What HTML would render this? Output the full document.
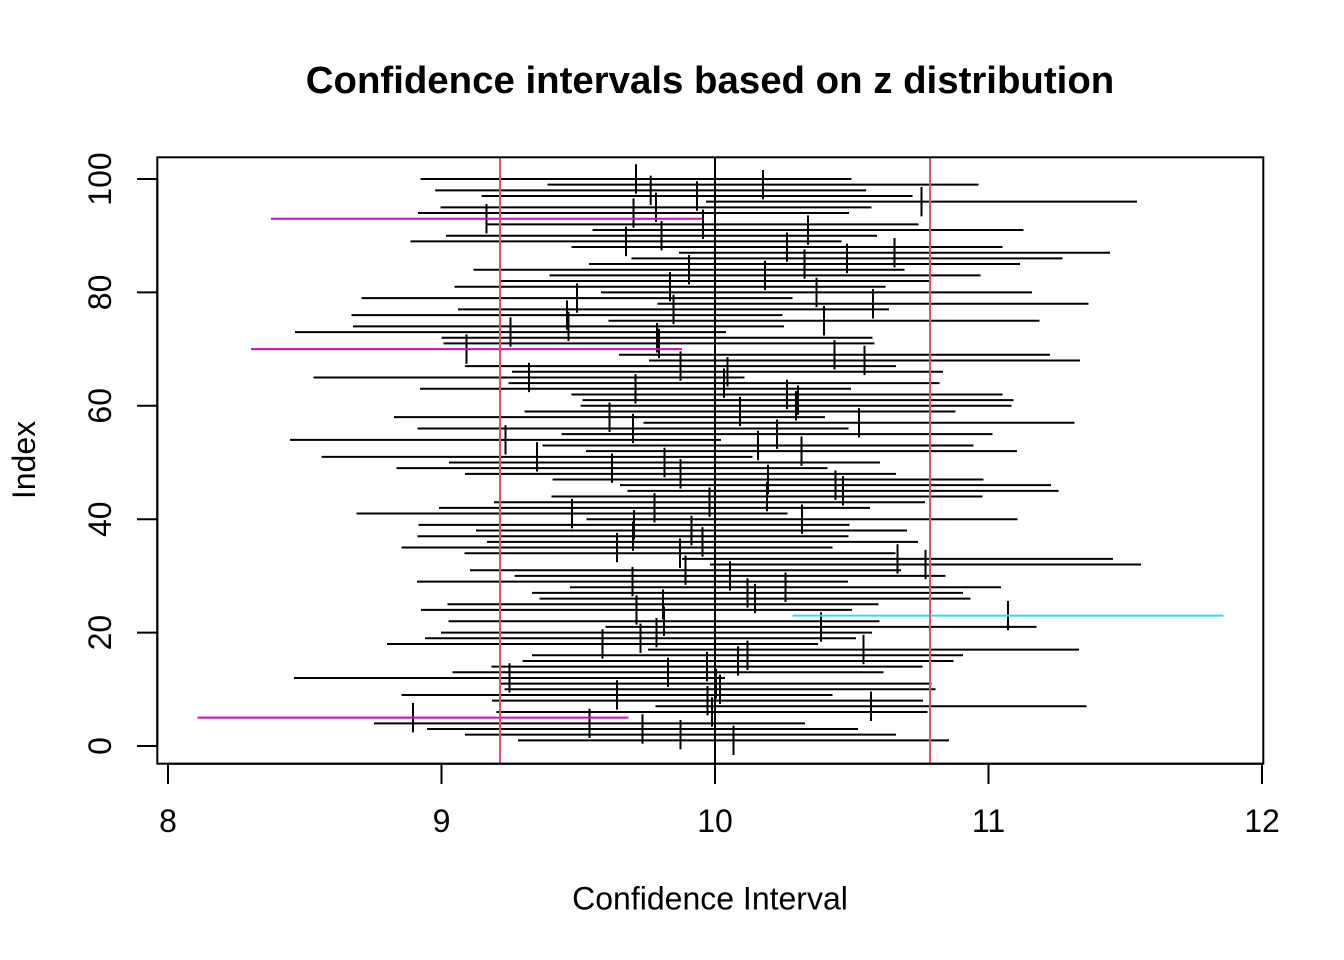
<!DOCTYPE html>
<html>
<head>
<meta charset="utf-8">
<style>
html,body{margin:0;padding:0;background:#fff;}
svg{display:block;}
text{font-family:"Liberation Sans",Arial,Helvetica,sans-serif;fill:#000;}
</style>
</head>
<body>
<svg width="1344" height="960" viewBox="0 0 1344 960" xmlns="http://www.w3.org/2000/svg">
<rect x="0" y="0" width="1344" height="960" fill="#fff"/>
<text x="710" y="93" font-size="38.4" font-weight="bold" text-anchor="middle">Confidence intervals based on z distribution</text>

<g stroke="#000" stroke-width="2" fill="none">
<path d="M518 740.33h431M733.5 725.63v29.4"/>
<path d="M465 734.66h431M680.5 719.96v29.4"/>
<path d="M427 728.99h431M642.5 714.29v29.4"/>
<path d="M374 723.32h431M589.5 708.62v29.4"/>
<path d="M413 702.95v29.4"/>
<path d="M496.5 711.98h431M712 697.28v29.4"/>
<path d="M655.5 706.31h431M871 691.61v29.4"/>
<path d="M492 700.64h431M707.5 685.94v29.4"/>
<path d="M401.5 694.97h431M617 680.27v29.4"/>
<path d="M504.5 689.3h431M720 674.6v29.4"/>
<path d="M500.5 683.63h431M716 668.93v29.4"/>
<path d="M294 677.96h431M509.5 663.26v29.4"/>
<path d="M452.5 672.29h431M668 657.59v29.4"/>
<path d="M491.5 666.62h431M707 651.92v29.4"/>
<path d="M522.5 660.95h431M738 646.25v29.4"/>
<path d="M532 655.28h431M747.5 640.58v29.4"/>
<path d="M648 649.61h431M863.5 634.91v29.4"/>
<path d="M387 643.94h431M602.5 629.24v29.4"/>
<path d="M425 638.27h431M640.5 623.57v29.4"/>
<path d="M441 632.6h431M656.5 617.9v29.4"/>
<path d="M605.5 626.93h431M821 612.23v29.4"/>
<path d="M448.5 621.26h431M664 606.56v29.4"/>
<path d="M1008 600.89v29.4"/>
<path d="M421 609.92h431M636.5 595.22v29.4"/>
<path d="M447.5 604.25h431M663 589.55v29.4"/>
<path d="M539.5 598.58h431M755 583.88v29.4"/>
<path d="M532 592.91h431M747.5 578.21v29.4"/>
<path d="M570 587.24h431M785.5 572.54v29.4"/>
<path d="M417 581.57h431M632.5 566.87v29.4"/>
<path d="M514.5 575.9h431M730 561.2v29.4"/>
<path d="M470 570.23h431M685.5 555.53v29.4"/>
<path d="M710 564.56h431M925.5 549.86v29.4"/>
<path d="M682 558.89h431M897.5 544.19v29.4"/>
<path d="M464.5 553.22h431M680 538.52v29.4"/>
<path d="M401.5 547.55h431M617 532.85v29.4"/>
<path d="M487 541.88h431M702.5 527.18v29.4"/>
<path d="M417.5 536.21h431M633 521.51v29.4"/>
<path d="M476 530.54h431M691.5 515.84v29.4"/>
<path d="M418.5 524.87h431M634 510.17v29.4"/>
<path d="M586.5 519.2h431M802 504.5v29.4"/>
<path d="M356.5 513.53h431M572 498.83v29.4"/>
<path d="M439 507.86h431M654.5 493.16v29.4"/>
<path d="M494 502.19h431M709.5 487.49v29.4"/>
<path d="M551.5 496.52h431M767 481.82v29.4"/>
<path d="M627.5 490.85h431M843 476.15v29.4"/>
<path d="M620 485.18h431M835.5 470.48v29.4"/>
<path d="M552.5 479.51h431M768 464.81v29.4"/>
<path d="M465 473.84h431M680.5 459.14v29.4"/>
<path d="M396.5 468.17h431M612 453.47v29.4"/>
<path d="M449 462.5h431M664.5 447.8v29.4"/>
<path d="M321.5 456.83h431M537 442.13v29.4"/>
<path d="M586 451.16h431M801.5 436.46v29.4"/>
<path d="M542.5 445.49h431M758 430.79v29.4"/>
<path d="M290 439.82h431M505.5 425.12v29.4"/>
<path d="M561.5 434.15h431M777 419.45v29.4"/>
<path d="M417.5 428.48h431M633 413.78v29.4"/>
<path d="M643.5 422.81h431M859 408.11v29.4"/>
<path d="M394 417.14h431M609.5 402.44v29.4"/>
<path d="M524.5 411.47h431M740 396.77v29.4"/>
<path d="M580.5 405.8h431M796 391.1v29.4"/>
<path d="M582.5 400.13h431M798 385.43v29.4"/>
<path d="M571.5 394.46h431M787 379.76v29.4"/>
<path d="M420 388.79h431M635.5 374.09v29.4"/>
<path d="M508.5 383.12h431M724 368.42v29.4"/>
<path d="M313.5 377.45h431M529 362.75v29.4"/>
<path d="M512 371.78h431M727.5 357.08v29.4"/>
<path d="M465 366.11h431M680.5 351.41v29.4"/>
<path d="M649 360.44h431M864.5 345.74v29.4"/>
<path d="M619 354.77h431M834.5 340.07v29.4"/>
<path d="M466.5 334.4v29.4"/>
<path d="M443.5 343.43h431M659 328.73v29.4"/>
<path d="M441.5 337.76h431M657 323.06v29.4"/>
<path d="M295 332.09h431M510.5 317.39v29.4"/>
<path d="M353 326.42h431M568.5 311.72v29.4"/>
<path d="M608.5 320.75h431M824 306.05v29.4"/>
<path d="M351.5 315.08h431M567 300.38v29.4"/>
<path d="M458 309.41h431M673.5 294.71v29.4"/>
<path d="M657.5 303.74h431M873 289.04v29.4"/>
<path d="M361.5 298.07h431M577 283.37v29.4"/>
<path d="M601 292.4h431M816.5 277.7v29.4"/>
<path d="M454.5 286.73h431M670 272.03v29.4"/>
<path d="M499.5 281.06h431M715 266.36v29.4"/>
<path d="M549.5 275.39h431M765 260.69v29.4"/>
<path d="M473.5 269.72h431M689 255.02v29.4"/>
<path d="M589 264.05h431M804.5 249.35v29.4"/>
<path d="M631.5 258.38h431M847 243.68v29.4"/>
<path d="M679 252.71h431M894.5 238.01v29.4"/>
<path d="M571.5 247.04h431M787 232.34v29.4"/>
<path d="M410.5 241.37h431M626 226.67v29.4"/>
<path d="M446 235.7h431M661.5 221v29.4"/>
<path d="M592.5 230.03h431M808 215.33v29.4"/>
<path d="M487.5 224.36h431M703 209.66v29.4"/>
<path d="M486.5 203.99v29.4"/>
<path d="M418 213.02h431M633.5 198.32v29.4"/>
<path d="M440.5 207.35h431M656 192.65v29.4"/>
<path d="M706 201.68h431M921.5 186.98v29.4"/>
<path d="M481.5 196.01h431M697 181.31v29.4"/>
<path d="M435.2 190.34h431M650.7 175.64v29.4"/>
<path d="M547.5 184.67h431M763 169.97v29.4"/>
<path d="M420.5 179h431M636 164.3v29.4"/>
</g>

<g stroke-width="2" fill="none">
<path d="M197.5 717.65h431" stroke="#CD0BBC"/>
<path d="M251 349.1h431" stroke="#CD0BBC"/>
<path d="M271 218.69h431" stroke="#CD0BBC"/>
<path d="M792.5 615.59h431" stroke="#28E2E5"/>
</g>

<g stroke-width="2" fill="none">
<line x1="715" y1="157.5" x2="715" y2="763.5" stroke="#000"/>
<line x1="500" y1="157.5" x2="500" y2="763.5" stroke="#DF536B"/>
<line x1="930" y1="157.5" x2="930" y2="763.5" stroke="#DF536B"/>
</g>

<rect x="157.3" y="157.3" width="1106" height="606.4" fill="none" stroke="#000" stroke-width="2"/>

<g stroke="#000" stroke-width="2">
<line x1="168" y1="763.7" x2="1262" y2="763.7"/>
<line x1="168" y1="763.7" x2="168" y2="784"/>
<line x1="441.5" y1="763.7" x2="441.5" y2="784"/>
<line x1="715" y1="763.7" x2="715" y2="784"/>
<line x1="988.5" y1="763.7" x2="988.5" y2="784"/>
<line x1="1262" y1="763.7" x2="1262" y2="784"/>
</g>
<g font-size="32" text-anchor="middle">
<text x="168" y="832">8</text>
<text x="441.5" y="832">9</text>
<text x="715" y="832">10</text>
<text x="988.5" y="832">11</text>
<text x="1262" y="832">12</text>
</g>
<text x="710" y="909.5" font-size="32" text-anchor="middle">Confidence Interval</text>

<g stroke="#000" stroke-width="2">
<line x1="157.3" y1="179" x2="157.3" y2="746"/>
<line x1="137" y1="746" x2="157.3" y2="746"/>
<line x1="137" y1="632.6" x2="157.3" y2="632.6"/>
<line x1="137" y1="519.2" x2="157.3" y2="519.2"/>
<line x1="137" y1="405.8" x2="157.3" y2="405.8"/>
<line x1="137" y1="292.4" x2="157.3" y2="292.4"/>
<line x1="137" y1="179" x2="157.3" y2="179"/>
</g>
<g font-size="32" text-anchor="middle">
<text transform="translate(111,746) rotate(-90)">0</text>
<text transform="translate(111,632.6) rotate(-90)">20</text>
<text transform="translate(111,519.2) rotate(-90)">40</text>
<text transform="translate(111,405.8) rotate(-90)">60</text>
<text transform="translate(111,292.4) rotate(-90)">80</text>
<text transform="translate(111,179) rotate(-90)">100</text>
</g>
<text transform="translate(35,460) rotate(-90)" font-size="32" text-anchor="middle">Index</text>
</svg>
</body>
</html>
